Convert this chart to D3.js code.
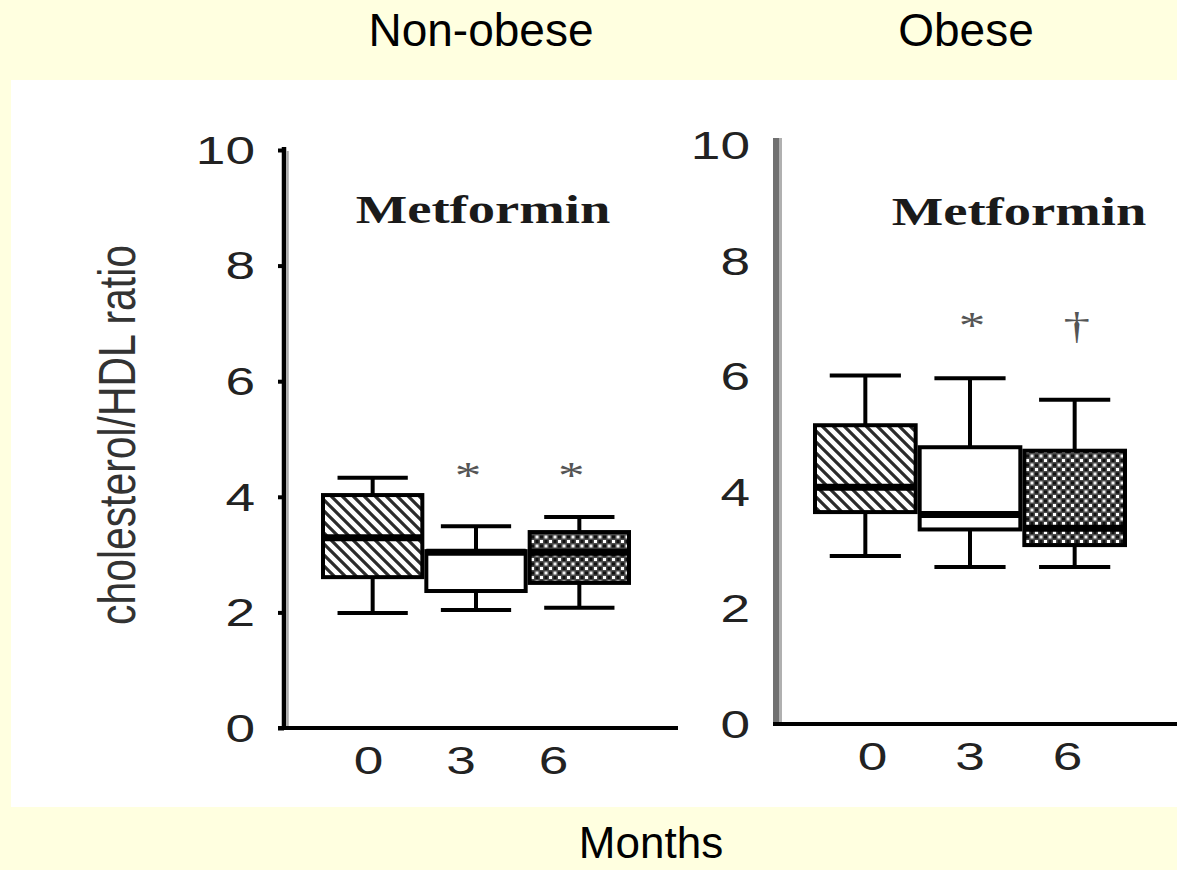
<!DOCTYPE html>
<html>
<head>
<meta charset="utf-8">
<script src="https://cdn.jsdelivr.net/npm/d3@7"></script>
<style>
  html, body { margin: 0; padding: 0; background: #FFFFE0; }
  svg { display: block; }
</style>
</head>
<body>
<svg id="chart" width="1177" height="870"></svg>
<script>
// ---------------- data ----------------
const months = ["0", "3", "6"];
const yTicks = [0, 2, 4, 6, 8, 10];
const panelTitles = ["Non-obese", "Obese"];
const innerTitle = "Metformin";
const xAxisTitle = "Months";
const yAxisTitle = "cholesterol/HDL ratio";

const nonObeseMin    = [1.99, 2.04, 2.08];
const nonObeseQ1     = [2.61, 2.37, 2.51];
const nonObeseMedian = [3.29, 3.04, 3.04];
const nonObeseQ3     = [4.03, 3.06, 3.39];
const nonObeseMax    = [4.33, 3.49, 3.65];
const nonObeseMarks  = ["", "*", "*"];
const nonObeseMarkValue = [null, 4.46, 4.46];

const obeseMin    = [2.90, 2.71, 2.71];
const obeseQ1     = [3.66, 3.36, 3.09];
const obeseMedian = [4.09, 3.62, 3.38];
const obeseQ3     = [5.16, 4.78, 4.72];
const obeseMax    = [6.02, 5.97, 5.60];
const obeseMarks  = ["", "*", "\u2020"];
const obeseMarkValue = [null, 6.97, 6.84];

const fills = ["hatch", "none", "checker"];

// ---------------- layout ----------------
const S = 1.4; // horizontal stretch of the scanned figure
const panels = [
  { title: panelTitles[0], titleX: 481,
    min: nonObeseMin, q1: nonObeseQ1, med: nonObeseMedian, q3: nonObeseQ3, max: nonObeseMax,
    marks: nonObeseMarks, markVal: nonObeseMarkValue, markDx: -8,
    axisX: 284, yRange: [728, 150], axisTop: 147, band: [321, 631], labelEdge: 255,
    labelRange: [368, 553], xAxisY: 728, xAxisStart: 278, xAxisEnd: 678,
    tickLabelY: 761, tickLen: 6, yAxisColor: "#000", yAxisWidth: 4.5, metX: 483, metY: 223 },
  { title: panelTitles[1], titleX: 966,
    min: obeseMin, q1: obeseQ1, med: obeseMedian, q3: obeseQ3, max: obeseMax,
    marks: obeseMarks, markVal: obeseMarkValue, markDx: 2,
    axisX: 776, yRange: [724, 145], axisTop: 138, band: [813, 1127], labelEdge: 750,
    labelRange: [872, 1067], xAxisY: 724, xAxisStart: 773, xAxisEnd: 1177,
    tickLabelY: 757, tickLen: 0, yAxisColor: "#707070", yAxisWidth: 6, metX: 1019, metY: 225 }
];

const svg = d3.select("#chart");

// background
svg.append("rect").attr("x", 0).attr("y", 0).attr("width", 1177).attr("height", 870).attr("fill", "#FFFFE0");
svg.append("rect").attr("x", 11).attr("y", 80).attr("width", 1166).attr("height", 727).attr("fill", "#FFFFFF");

// patterns
const defs = svg.append("defs");
const hatch = defs.append("pattern").attr("id", "hatch").attr("patternUnits", "userSpaceOnUse")
  .attr("width", 11).attr("height", 11);
hatch.append("rect").attr("width", 11).attr("height", 11).attr("fill", "#fff");
hatch.append("path").attr("d", "M0,0 L11,11 M-3,8 L3,14 M8,-3 L14,3")
  .attr("stroke", "#2b2b2b").attr("stroke-width", 3.2);

const checker = defs.append("pattern").attr("id", "checker").attr("patternUnits", "userSpaceOnUse")
  .attr("width", 9).attr("height", 9);
checker.append("rect").attr("width", 9).attr("height", 9).attr("fill", "#4a4a4a");
checker.append("rect").attr("x", 0).attr("y", 0).attr("width", 3).attr("height", 3).attr("fill", "#fff");
checker.append("rect").attr("x", 4.5).attr("y", 4.5).attr("width", 3).attr("height", 3).attr("fill", "#f2f2f2");
checker.append("rect").attr("x", 4.5).attr("y", 0).attr("width", 3).attr("height", 3).attr("fill", "#111");
checker.append("rect").attr("x", 0).attr("y", 4.5).attr("width", 3).attr("height", 3).attr("fill", "#111");

// panel titles and x title (slide text)
svg.selectAll("text.ptitle").data(panels).join("text")
  .attr("class", "ptitle")
  .attr("x", d => d.titleX).attr("y", 46)
  .attr("text-anchor", "middle")
  .attr("font-family", "Liberation Sans, Arial, sans-serif")
  .attr("font-size", 46)
  .attr("fill", "#000")
  .text(d => d.title);

svg.append("text")
  .attr("x", 651).attr("y", 858)
  .attr("text-anchor", "middle")
  .attr("font-family", "Liberation Sans, Arial, sans-serif")
  .attr("font-size", 44)
  .attr("fill", "#000")
  .text(xAxisTitle);

// y axis title
svg.append("text")
  .attr("transform", `translate(135,435) scale(${S},1) rotate(-90)`)
  .attr("text-anchor", "middle")
  .attr("font-family", "Liberation Sans, Arial, sans-serif")
  .attr("font-size", 37)
  .attr("textLength", 380)
  .attr("lengthAdjust", "spacingAndGlyphs")
  .attr("fill", "#333")
  .text(yAxisTitle);

panels.forEach(p => {
  const g = svg.append("g");
  const y = d3.scaleLinear().domain([0, 10]).range(p.yRange);
  const x = d3.scaleBand().domain(months).range(p.band).padding(0);
  const xl = d3.scalePoint().domain(months).range(p.labelRange);

  // y axis
  const yAxis = d3.axisLeft(y).tickValues(yTicks).tickSize(p.tickLen).tickSizeOuter(0).tickPadding(0);
  const ag = g.append("g").attr("transform", `translate(${p.axisX},0)`).call(yAxis);
  ag.select(".domain").remove();
  ag.selectAll(".tick line").attr("stroke", "#000").attr("stroke-width", 4);
  ag.selectAll(".tick text")
    .attr("x", null).attr("dy", "0.35em")
    .attr("transform", `translate(${p.labelEdge - p.axisX},0) scale(${S},1)`)
    .attr("text-anchor", "end")
    .attr("font-family", "Liberation Sans, Arial, sans-serif")
    .attr("font-size", 38)
    .attr("fill", "#222");
  g.append("line")
    .attr("x1", p.axisX).attr("x2", p.axisX)
    .attr("y1", p.axisTop).attr("y2", p.xAxisY + 2)
    .attr("stroke", p.yAxisColor).attr("stroke-width", p.yAxisWidth);
  if (p.tickLen === 0) {
    g.append("line")
      .attr("x1", p.axisX + 4.5).attr("x2", p.axisX + 4.5)
      .attr("y1", p.axisTop).attr("y2", p.xAxisY - 2)
      .attr("stroke", "#b0b0b0").attr("stroke-width", 3);
  } else {
    g.append("line")
      .attr("x1", p.axisX + 3.5).attr("x2", p.axisX + 3.5)
      .attr("y1", p.axisTop + 4).attr("y2", p.xAxisY - 2)
      .attr("stroke", "#aaa").attr("stroke-width", 2.5);
  }

  // x axis line
  g.append("line")
    .attr("x1", p.xAxisStart).attr("x2", p.xAxisEnd)
    .attr("y1", p.xAxisY).attr("y2", p.xAxisY)
    .attr("stroke", "#000").attr("stroke-width", 4);

  // x tick labels
  const xAxis = d3.axisBottom(xl).tickSize(0).tickPadding(0);
  const xg = g.append("g").attr("transform", `translate(0,${p.tickLabelY})`).call(xAxis);
  xg.select(".domain").remove();
  xg.selectAll(".tick text")
    .attr("y", null).attr("dy", "0.35em")
    .attr("transform", `scale(${S},1)`)
    .attr("font-family", "Liberation Sans, Arial, sans-serif")
    .attr("font-size", 38)
    .attr("fill", "#222");

  // Metformin label
  g.append("text")
    .attr("transform", `translate(${p.metX},${p.metY}) scale(${S},1)`)
    .attr("text-anchor", "middle")
    .attr("font-family", "Liberation Serif, Times New Roman, serif")
    .attr("font-weight", "bold")
    .attr("font-size", 39)
    .attr("fill", "#1a1a1a")
    .text(innerTitle);

  // boxes
  const bw = x.bandwidth();
  const capW = bw * 0.68;
  const rows = months.map((m, i) => ({
    m, i, min: p.min[i], q1: p.q1[i], med: p.med[i], q3: p.q3[i], max: p.max[i],
    fill: fills[i], mark: p.marks[i], markVal: p.markVal[i]
  }));
  const bx = g.selectAll("g.box").data(rows).join("g").attr("class", "box");

  // whiskers
  bx.append("line")
    .attr("x1", d => x(d.m) + bw / 2).attr("x2", d => x(d.m) + bw / 2)
    .attr("y1", d => y(d.max)).attr("y2", d => y(d.q3))
    .attr("stroke", "#000").attr("stroke-width", 4);
  bx.append("line")
    .attr("x1", d => x(d.m) + bw / 2).attr("x2", d => x(d.m) + bw / 2)
    .attr("y1", d => y(d.q1)).attr("y2", d => y(d.min))
    .attr("stroke", "#000").attr("stroke-width", 4);
  // caps
  bx.append("line")
    .attr("x1", d => x(d.m) + bw / 2 - capW / 2).attr("x2", d => x(d.m) + bw / 2 + capW / 2)
    .attr("y1", d => y(d.max)).attr("y2", d => y(d.max))
    .attr("stroke", "#000").attr("stroke-width", 4);
  bx.append("line")
    .attr("x1", d => x(d.m) + bw / 2 - capW / 2).attr("x2", d => x(d.m) + bw / 2 + capW / 2)
    .attr("y1", d => y(d.min)).attr("y2", d => y(d.min))
    .attr("stroke", "#000").attr("stroke-width", 4);
  // box
  bx.append("rect")
    .attr("x", d => x(d.m) + 2).attr("width", bw - 4)
    .attr("y", d => y(d.q3)).attr("height", d => y(d.q1) - y(d.q3))
    .attr("fill", d => d.fill === "none" ? "#fff" : `url(#${d.fill})`)
    .attr("stroke", "#000").attr("stroke-width", 4);
  // median
  bx.append("line")
    .attr("x1", d => x(d.m) + 2).attr("x2", d => x(d.m) + bw - 2)
    .attr("y1", d => y(d.med)).attr("y2", d => y(d.med))
    .attr("stroke", "#000").attr("stroke-width", 7);

  // significance marks
  bx.filter(d => d.mark).append("text")
    .attr("transform", d => `translate(${x(d.m) + bw / 2 + p.markDx},${y(d.markVal) + (d.mark === "*" ? 18 : 11)}) scale(${S},1)`)
    .attr("text-anchor", "middle")
    .attr("font-family", "Liberation Serif, Times New Roman, serif")
    .attr("font-size", 38)
    .attr("fill", "#555")
    .text(d => d.mark);
});
</script>
</body>
</html>
